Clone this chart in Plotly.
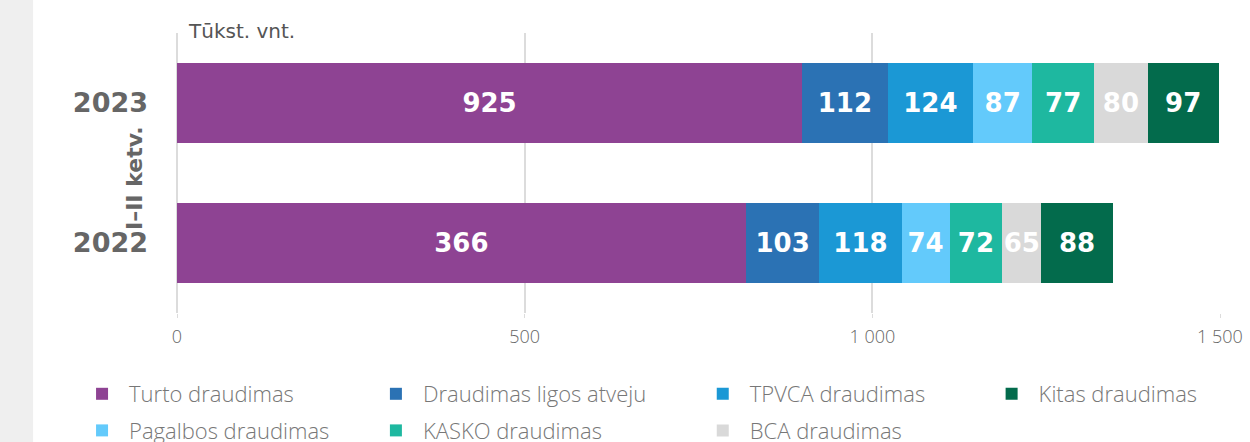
import plotly.graph_objects as go

# ---- data ----
categories = ["2022", "2023"]

series_names = [
    "Turto draudimas",
    "Draudimas ligos atveju",
    "TPVCA draudimas",
    "Pagalbos draudimas",
    "KASKO draudimas",
    "BCA draudimas",
    "Kitas draudimas",
]

# bar lengths (thous. units), [2022, 2023]
turto = [818, 899]
ligos = [106, 123]
tpvca = [118, 123]
pagalbos = [69, 85]
kasko = [76, 89]
bca = [56, 77]
kitas = [103, 102]

# value labels printed on the bars, [2022, 2023]
turto_lbl = ["366", "925"]
ligos_lbl = ["103", "112"]
tpvca_lbl = ["118", "124"]
pagalbos_lbl = ["74", "87"]
kasko_lbl = ["72", "77"]
bca_lbl = ["65", "80"]
kitas_lbl = ["88", "97"]

x_tickvals = [0, 500, 1000, 1500]
x_ticktext = ["0", "500", "1 000", "1 500"]

unit_label = "Tūkst. vnt."
period_label = "I–II ketv."

# ---- styling ----
colors = ["#8E4393", "#2B72B4", "#1B98D5", "#63CAFB", "#1EB8A0", "#D9D9D9", "#036B4C"]
legend_of = ["legend", "legend2", "legend3", "legend", "legend2", "legend3", "legend4"]

values = [turto, ligos, tpvca, pagalbos, kasko, bca, kitas]
labels = [turto_lbl, ligos_lbl, tpvca_lbl, pagalbos_lbl, kasko_lbl, bca_lbl, kitas_lbl]

fig = go.Figure()
for name, vals, lbls, col, lg in zip(series_names, values, labels, colors, legend_of):
    fig.add_trace(go.Bar(
        y=categories, x=vals, name=name, orientation="h",
        marker=dict(color=col, line=dict(width=0)),
        text=lbls, textposition="inside", insidetextanchor="middle", textangle=0,
        textfont=dict(family="DejaVu Sans", size=26, color="white", weight="bold"),
        legend=lg, legendgroup=name, hoverinfo="skip",
        cliponaxis=False,
    ))

# figure is a bit larger than the 1250x442 window so the legends never force margin changes
VIEW_W = 1250
W, H = 1320, 490
L, T = 177, 33
PLOT_RIGHT, PLOT_BOTTOM = 1220.5, 313
R = W - PLOT_RIGHT
B = H - PLOT_BOTTOM
pw = W - L - R
ph = H - T - B

def px_x(x):
    return (x - L) / pw

def px_y(y):
    return (PLOT_BOTTOM - y) / ph

legend_font = dict(family="Open Sans", size=22, color="#777777", weight=300)
legend_common = dict(
    xanchor="left", yanchor="top", orientation="v", font=legend_font,
    itemwidth=44, tracegroupgap=5, bgcolor="rgba(0,0,0,0)",
    itemclick=False, itemdoubleclick=False,
)
legend_y = px_y(373)

fig.update_layout(
    width=W, height=H,
    margin=dict(l=L, r=R, t=T, b=B, pad=0),
    barmode="stack", bargap=0.4286,
    plot_bgcolor="white", paper_bgcolor="white",
    uniformtext=dict(minsize=26, mode="show"),
    xaxis=dict(
        range=[0, 1500], tickvals=x_tickvals, ticktext=x_ticktext,
        showgrid=True, gridcolor="#DCDCDC", gridwidth=2,
        zeroline=True, zerolinecolor="#DCDCDC", zerolinewidth=2,
        showline=False,
        ticks="outside", ticklen=4, tickcolor="#DCDCDC", tickwidth=1,
        ticklabelstandoff=3,
        tickfont=dict(family="Open Sans", size=18, color="#666666", weight=300),
        fixedrange=True,
    ),
    yaxis=dict(
        type="category", categoryorder="array", categoryarray=categories,
        range=[-0.5, 1.5], showgrid=False, zeroline=False, showline=False,
        ticks="", ticklabelstandoff=28,
        tickfont=dict(family="DejaVu Sans", size=27, color="#666666", weight="bold"),
        fixedrange=True,
    ),
    legend=dict(x=px_x(75), y=legend_y, **legend_common),
    legend2=dict(x=px_x(369), y=legend_y, **legend_common),
    legend3=dict(x=px_x(696), y=legend_y, **legend_common),
    legend4=dict(x=px_x(985), y=legend_y, **legend_common),
    showlegend=True,
    shapes=[dict(
        type="rect", xref="paper", yref="paper",
        x0=px_x(-5), x1=px_x(33), y0=px_y(H + 5), y1=px_y(-5),
        fillcolor="#EFEFEF", line=dict(width=0), layer="below",
    )],
    annotations=[
        dict(text=unit_label, xref="paper", yref="paper",
             x=px_x(186), y=px_y(31), xanchor="left", yanchor="middle",
             showarrow=False,
             font=dict(family="DejaVu Sans", size=20, color="#555555")),
        dict(text=period_label, xref="paper", yref="paper",
             x=px_x(135), y=px_y(178), xanchor="center", yanchor="middle",
             textangle=-90, showarrow=False,
             font=dict(family="DejaVu Sans", size=22, color="#666666", weight="bold")),
    ],
)

fig.write_html(
    "out.html",
    config={"displayModeBar": False},
    post_script=(
        "document.body.style.margin='0';document.body.style.padding='0';"
        "document.body.style.overflow='hidden';"
        "document.documentElement.style.overflow='hidden';"
    ),
)
